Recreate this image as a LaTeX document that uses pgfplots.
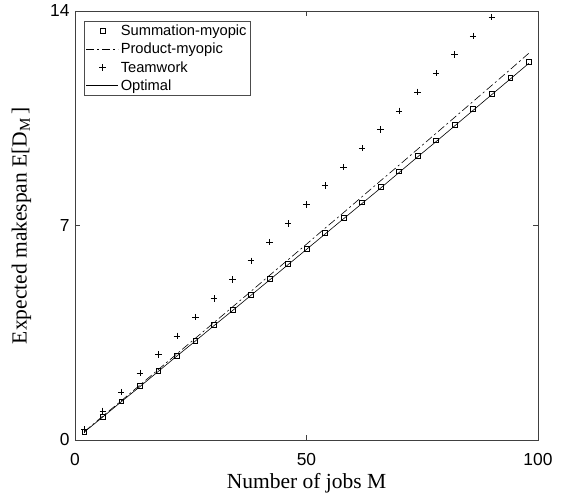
\documentclass[border=0pt]{standalone}
\usepackage{pgfplots}
\pgfplotsset{compat=1.18}
\usepackage{fontspec}
\setmainfont{Liberation Serif}
\newfontfamily\helv{Liberation Sans}

\pgfplotstableread{
x sum prod team opt
2  0.27  0.27  0.34  0.26
6  0.76  0.78  0.95  0.75
10 1.26  1.28  1.56  1.25
14 1.76  1.79  2.18  1.74
18 2.25  2.30  2.79  2.24
22 2.75  2.81  3.40  2.74
26 3.25  3.32  4.01  3.23
30 3.75  3.83  4.62  3.73
34 4.24  4.34  5.24  4.22
38 4.74  4.85  5.85  4.72
42 5.25  5.37  6.46  5.22
46 5.75  5.88  7.07  5.72
50 6.25  6.39  7.68  6.22
54 6.75  6.91  8.30  6.72
58 7.25  7.42  8.91  7.22
62 7.76  7.94  9.52  7.72
66 8.26  8.46  10.13 8.22
70 8.77  8.97  10.74 8.73
74 9.28  9.49  11.36 9.24
78 9.78  10.01 11.97 9.74
82 10.29 10.53 12.58 10.25
86 10.80 11.05 13.19 10.76
90 11.31 11.57 13.80 11.27
94 11.82 12.09 nan   11.78
98 12.33 12.62 nan   12.29
}\datatable

\begin{document}
\begin{tikzpicture}
\begin{axis}[
  at={(0pt,0pt)}, anchor=south west,
  scale only axis,
  width=463pt, height=429pt,
  xmin=0, xmax=100, ymin=0, ymax=14,
  xtick={0,50,100}, ytick={0,7,14},
  tick align=inside,
  major tick length=5pt,
  axis line style={draw=black!75, line width=0.8pt},
  every tick/.style={black!75, line width=0.8pt},
  tick label style={font=\helv\fontsize{17.4}{17.4}\selectfont},
  xticklabel style={yshift=-10pt},
  yticklabel style={xshift=-2pt},
  /pgf/number format/assume math mode=true,
  xlabel={Number of jobs M},
  ylabel={Expected makespan E[D\textsubscript{M}\,]},
  label style={font=\fontsize{21.5}{21.5}\selectfont},
  xlabel style={yshift=-1pt},
  ylabel style={yshift=12pt},
  unbounded coords=discard,
  legend image code/.code={\draw[mark repeat=2,mark phase=2,#1] plot coordinates {(0pt,0pt) (16pt,0pt) (32pt,0pt)};},
  legend style={at={(0.0194,0.977)}, anchor=north west, draw=black!70,
    font=\helv\fontsize{14.7}{17}\selectfont, row sep=2pt,
    inner xsep=2pt, inner ysep=2pt, cells={anchor=west}},
  legend cell align=left,
]
\addplot[only marks, mark=square, mark size=2.4pt, black, mark options={line width=0.6pt}]
  table[x=x, y=sum] {\datatable};
\addlegendentry{Summation-myopic}
\addplot[black, line width=0.6pt, dash pattern=on 8pt off 3pt on 2pt off 3pt]
  table[x=x, y=prod] {\datatable};
\addlegendentry{Product-myopic}
\addplot[only marks, mark=+, mark size=3.2pt, black, mark options={line width=0.6pt}]
  table[x=x, y=team] {\datatable};
\addlegendentry{Teamwork}
\addplot[black, line width=0.6pt]
  table[x=x, y=opt] {\datatable};
\addlegendentry{Optimal}
\end{axis}
\pgfresetboundingbox
\path (-75pt,-58pt) rectangle (493pt,440pt);
\end{tikzpicture}
\end{document}
